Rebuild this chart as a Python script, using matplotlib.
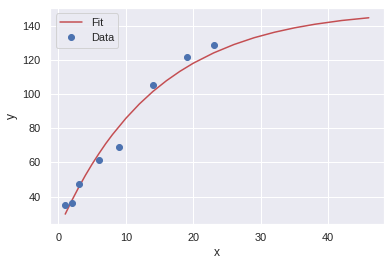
import numpy as np
import matplotlib
matplotlib.use("Agg")
import matplotlib.pyplot as plt
import seaborn as sns

sns.set_theme(color_codes=True)
plt.rcParams['font.family'] = ['Liberation Sans', 'DejaVu Sans']

# measured points
x_data = [1, 2, 3, 6, 9, 14, 19, 23]
y_data = [35.2, 36.4, 47.3, 61.2, 69.3, 105.5, 121.9, 128.8]

# fitted curve
x_fit = [1, 2, 3, 4, 5, 6, 7, 8, 10, 12, 14, 16, 18, 20, 23, 26, 29, 32, 35, 38, 42, 46]
y_fit = [29.7, 37.8, 45.4, 52.5, 59.1, 65.2, 71.0, 76.3, 85.9, 94.3, 101.6, 107.9,
         113.4, 118.2, 124.2, 129.1, 133.1, 136.3, 138.9, 141.0, 143.2, 144.8]

fig = plt.figure(figsize=(391 / 72, 265 / 72), dpi=72)
ax = fig.add_axes([0.128, 0.155, 0.854, 0.815])
ax.plot(x_fit, y_fit, 'r-', label='Fit')
ax.plot(x_data, y_data, 'bo', label='Data')
ax.set_xlabel('x')
ax.set_ylabel('y')
ax.legend(loc='upper left')
fig.savefig('out.png', dpi=72)
